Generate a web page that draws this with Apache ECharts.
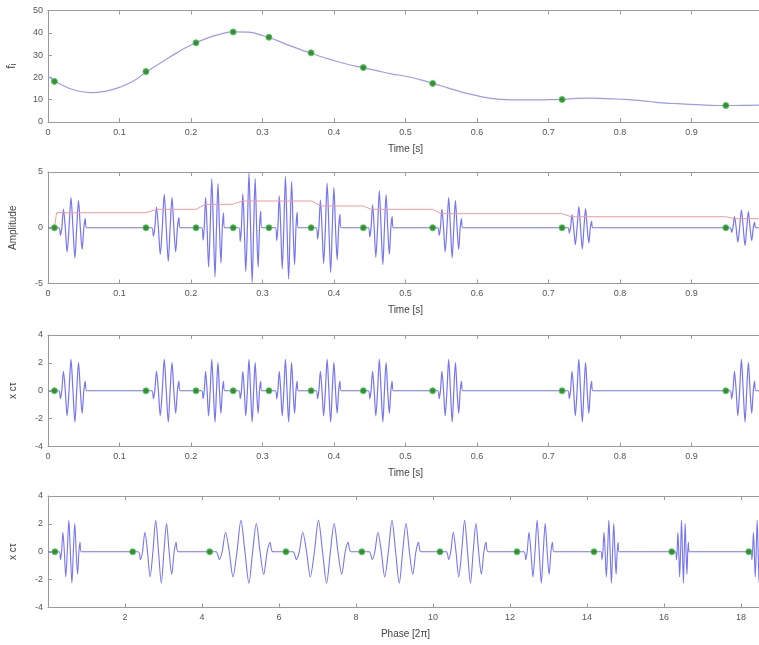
<!DOCTYPE html>
<html>
<head>
<meta charset="utf-8">
<script src="https://cdn.jsdelivr.net/npm/echarts@6/dist/echarts.min.js"></script>
<style>
html,body{margin:0;padding:0;background:#fff;}
#c{width:759px;height:645px;}
</style>
</head>
<body>
<div id="c"></div>
<script>
// ---- instantaneous frequency curve (panel 1) ----
const fTime = [0,0.02,0.04,0.06,0.08,0.10,0.12,0.14,0.16,0.18,0.20,0.22,0.24,0.26,0.28,0.30,0.32,0.34,0.36,0.38,0.40,0.42,0.44,0.46,0.48,0.50,0.52,0.54,0.56,0.58,0.60,0.62,0.64,0.66,0.68,0.70,0.72,0.74,0.76,0.78,0.80,0.82,0.84,0.86,0.88,0.90,0.92,0.94,0.96,0.98,1.00];
const fValue = [20.5,16.5,14.0,13.2,13.8,15.5,18.5,23.0,27.0,31.0,34.5,37.3,39.3,40.4,40.3,38.8,36.6,34.0,31.7,29.5,27.6,25.8,24.4,23.0,21.6,20.5,19.0,17.2,15.2,13.3,11.8,10.6,10.0,9.9,9.9,10.0,10.1,10.6,10.7,10.5,10.2,9.8,9.2,8.6,8.2,7.9,7.6,7.4,7.4,7.5,7.6];

// ---- onsets (green dots) ----
const onsetT = [0.009,0.137,0.207,0.259,0.309,0.368,0.441,0.538,0.719,0.948];
const onsetF = [18.2,22.6,35.5,40.4,38.0,31.0,24.4,17.3,10.1,7.4];
const onsetPhase = [0.18,2.2,4.2,6.18,8.15,10.18,12.18,14.18,16.2,18.2];

// ---- burst extents ----
const burstStartT = [0.015,0.145,0.215,0.267,0.318,0.375,0.448,0.545,0.727,0.954];
const burstEndT   = [0.054,0.185,0.247,0.299,0.350,0.410,0.483,0.580,0.762,0.990];
const burstStartPhase = [0.29,2.34,4.36,6.36,8.34,10.34,12.36,14.36,16.30,18.26];
const burstEndPhase   = [0.86,3.38,5.84,7.87,9.69,11.43,13.14,14.83,16.65,18.62];

// ---- burst peak amplitudes ----
const ampPeak = [2.7,3.0,4.4,4.9,4.6,4.0,3.3,2.7,1.9,1.6];   // panel 2
const xcPeak = 2.25;                                         // panels 3 & 4

// ---- wavelet shape read from the bursts (fraction of burst, normalised value) ----
const waveU = [0,0.06,0.11,0.17,0.235,0.30,0.37,0.44,0.51,0.58,0.645,0.71,0.775,0.84,0.90,0.95,1.0];
const waveV = [0,-0.25,0,0.62,0,-0.8,0,1,0,-1,0,0.9,0,-0.72,0,0.3,0];

// ---- amplitude envelope (red, panel 2) ----
const redT = [0.009,0.012,0.137,0.152,0.207,0.220,0.258,0.272,0.369,0.382,0.441,0.452,0.538,0.550,0.719,0.732,0.948,0.960,1.0];
const redV = [0,1.35,1.35,1.65,1.65,2.1,2.1,2.4,2.4,1.95,1.95,1.65,1.65,1.26,1.26,0.99,0.99,0.81,0.81];

// ---- axis ticks ----
const timeTicks = {min:0,max:1,interval:0.1};
const phaseTicks = {min:0,max:18.57,interval:2};

function zip(a,b){return a.map((v,i)=>[v,b[i]]);}
function buildBursts(starts, ends, peaks, x0, x1){
  const out=[[x0,0]];
  for(let i=0;i<starts.length;i++){
    const s=starts[i], e=ends[i], p=Array.isArray(peaks)?peaks[i]:peaks;
    for(let k=0;k<waveU.length;k++){
      out.push([s+waveU[k]*(e-s), p*waveV[k]]);
    }
  }
  out.push([x1,0]);
  return out;
}

const tops=[10.5,172,335,496];
const H=111.5;
const grid=tops.map(t=>({left:48,right:-4,top:t,height:H,containLabel:false,outerBoundsMode:'none'}));
const axisCol='#9a9a9a';
const lblCol='#555';
const FONT='Liberation Sans, Arial, sans-serif';

function xAxes(i, ticks, name){
  const base={gridIndex:i,type:'value',min:ticks.min,max:ticks.max,interval:ticks.interval,
    splitLine:{show:false},
    axisLine:{show:true,onZero:false,lineStyle:{color:axisCol,width:1}},
    axisTick:{show:true,inside:true,length:4,lineStyle:{color:axisCol}}};
  return [
    Object.assign({},base,{position:'bottom',
      axisLabel:{color:lblCol,fontSize:9,fontFamily:FONT,margin:6,showMaxLabel:false,
        formatter:(v)=> (ticks===phaseTicks && v===0)?'':String(+v.toFixed(2))},
      name:name,nameLocation:'middle',nameGap:22,
      nameTextStyle:{color:'#444',fontSize:10,fontFamily:FONT}}),
    Object.assign({},base,{position:'top',axisLabel:{show:false}})
  ];
}
function yAxes(i,min,max,interval,name,nameSize){
  const base={gridIndex:i,type:'value',min:min,max:max,interval:interval,
    splitLine:{show:false},
    axisLine:{show:true,onZero:false,lineStyle:{color:axisCol,width:1}},
    axisTick:{show:true,inside:true,length:4,lineStyle:{color:axisCol}}};
  return [
    Object.assign({},base,{position:'left',
      axisLabel:{color:lblCol,fontSize:9,fontFamily:FONT,margin:5},
      name:name,nameLocation:'middle',nameGap:30,
      nameTextStyle:{color:'#444',fontSize:nameSize||10,fontFamily:FONT}}),
    Object.assign({},base,{position:'right',axisLabel:{show:false}})
  ];
}

const xAxis=[].concat(
  xAxes(0,timeTicks,'Time [s]'),
  xAxes(1,timeTicks,'Time [s]'),
  xAxes(2,timeTicks,'Time [s]'),
  xAxes(3,phaseTicks,'Phase [2\u03C0]')
);
const yAxis=[].concat(
  yAxes(0,0,50,10,'f\u1D62',12),
  yAxes(1,-5,5,5,'Amplitude'),
  yAxes(2,-4,4,2,'x c\u03C4'),
  yAxes(3,-4,4,2,'x c\u03C4')
);

const blue='#7676f0';
const dotStyle={color:'#1e8c1e',borderColor:'#5fbf5f',borderWidth:1,opacity:0.9};
function lineS(i,data,color,w,smooth){
  return {type:'line',xAxisIndex:2*i,yAxisIndex:2*i,data:data,showSymbol:false,symbol:'none',
    smooth:smooth,lineStyle:{color:color,width:w},silent:true,animation:false,z:2};
}
function dotS(i,data){
  return {type:'scatter',xAxisIndex:2*i,yAxisIndex:2*i,data:data,symbol:'circle',symbolSize:6,
    itemStyle:dotStyle,animation:false,z:5};
}
const zeros=onsetT.map(()=>0);

const series=[
  lineS(0,zip(fTime,fValue),'#9b9bf0',1.2,true),
  dotS(0,zip(onsetT,onsetF)),
  lineS(1,buildBursts(burstStartT,burstEndT,ampPeak,0,1),blue,1.2,0.3),
  lineS(1,zip(redT,redV),'#f59a9a',1,false),
  dotS(1,zip(onsetT,zeros)),
  lineS(2,buildBursts(burstStartT,burstEndT,xcPeak,0,1),blue,1.2,0.3),
  dotS(2,zip(onsetT,zeros)),
  lineS(3,buildBursts(burstStartPhase,burstEndPhase,xcPeak,0,18.57),blue,1.1,0.3),
  dotS(3,zip(onsetPhase,zeros))
];

const chart=echarts.init(document.getElementById('c'),null,{renderer:'canvas'});
chart.setOption({animation:false,backgroundColor:'#fff',grid:grid,xAxis:xAxis,yAxis:yAxis,series:series});
</script>
</body>
</html>
